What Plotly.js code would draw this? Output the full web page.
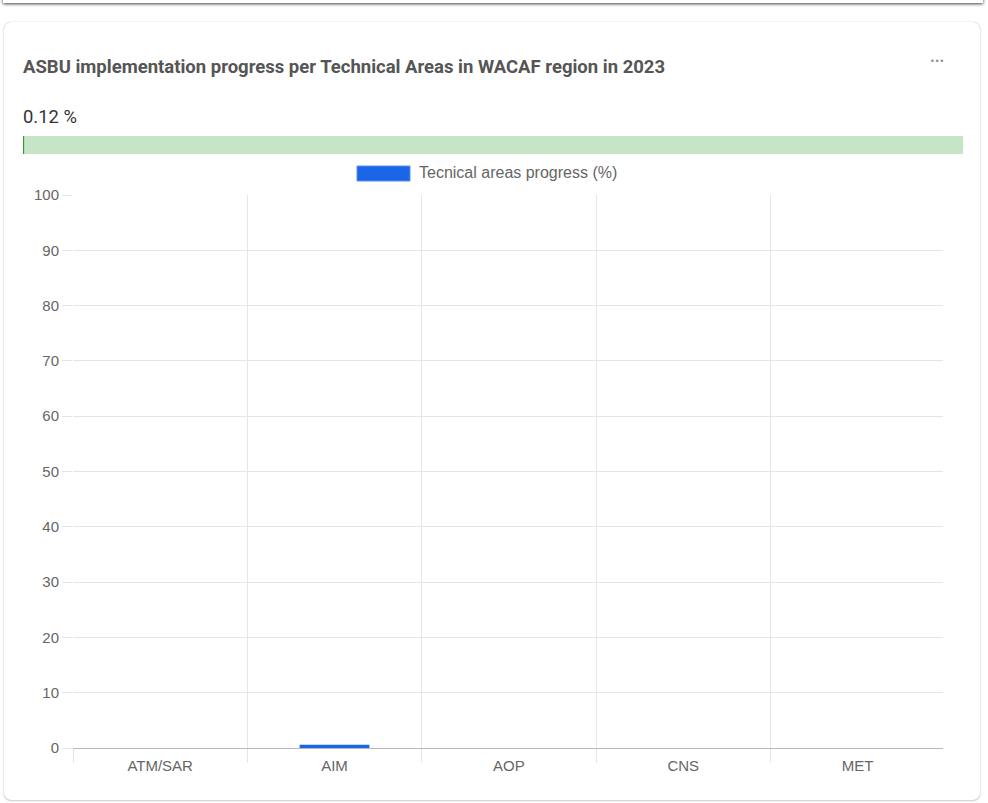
<!DOCTYPE html>
<html>
<head>
<meta charset="utf-8">
<script src="https://cdn.plot.ly/plotly-3.0.1.min.js"></script>
<style>
  html, body { margin: 0; padding: 0; background: #ffffff; width: 988px; height: 803px; overflow: hidden; }
  #topcard { position: absolute; left: 3px; top: -30px; width: 980px; height: 33px; background: #fff;
             box-shadow: 0 1px 3px rgba(0,0,0,0.75); }
  #card { position: absolute; left: 4px; top: 22px; width: 976px; height: 778px; background: #fff;
          border-radius: 7px; box-shadow: 0 0 1px rgba(0,0,0,0.35), 0 1px 2px rgba(0,0,0,0.18); }
  #chart { position: absolute; left: 0; top: 0; width: 988px; height: 803px; }
</style>
</head>
<body>
<div id="topcard"></div>
<div id="card"></div>
<div id="chart"></div>
<script>
// ---- data ----
const chartTitle = "ASBU implementation progress per Technical Areas in WACAF region in 2023";
const categories = ["ATM/SAR", "AIM", "AOP", "CNS", "MET"];
const progressValues = [0, 0.6, 0, 0, 0];
const seriesName = "Tecnical areas progress (%)";
const overallProgress = [0.12];
const overallMax = [100];
const yTickValues = [0, 10, 20, 30, 40, 50, 60, 70, 80, 90, 100];

// ---- helpers (pixel -> paper) ----
const W = 988, H = 803;
const px = x => x / W;
const py = y => 1 - y / H;

const blue = "#1a66e6";
const grid = "#e6e6e6";

const traces = [
  {
    type: "bar", x: categories, y: progressValues, name: seriesName,
    marker: { color: blue }, width: 0.4, xaxis: "x", yaxis: "y",
    showlegend: false, hoverinfo: "skip"
  },
  {
    type: "bar", orientation: "h", x: overallMax, y: ["overall"],
    marker: { color: "#c6e5c6" }, width: 1, xaxis: "x2", yaxis: "y2",
    showlegend: false, hoverinfo: "skip"
  },
  {
    type: "bar", orientation: "h", x: overallProgress, y: ["overall"],
    marker: { color: "#2f9a3a" }, width: 1, xaxis: "x2", yaxis: "y2",
    showlegend: false, hoverinfo: "skip"
  }
];

const layout = {
  width: W, height: H,
  margin: { l: 0, r: 0, t: 0, b: 0 },
  paper_bgcolor: "rgba(0,0,0,0)",
  plot_bgcolor: "rgba(0,0,0,0)",
  barmode: "overlay",
  showlegend: false,
  xaxis: {
    domain: [px(73), px(943)],
    type: "category",
    categoryorder: "array", categoryarray: categories,
    range: [-0.5, 4.49],
    tickson: "boundaries",
    showgrid: true, gridcolor: grid, gridwidth: 1,
    ticks: "outside", ticklen: 14, tickcolor: grid, tickwidth: 1,
    showline: true, linecolor: "#b8b8b8", linewidth: 1,
    zeroline: false,
    tickfont: { family: "Liberation Sans, Arial, sans-serif", size: 15, color: "#666" },
    ticklabelstandoff: 4,
    automargin: false, fixedrange: true
  },
  yaxis: {
    domain: [py(748), py(195)],
    range: [0, 100],
    tickvals: yTickValues,
    showgrid: true, gridcolor: grid, gridwidth: 1,
    ticks: "outside", ticklen: 10, tickcolor: grid, tickwidth: 1,
    showline: false, zeroline: false,
    tickfont: { family: "Liberation Sans, Arial, sans-serif", size: 15, color: "#666" },
    automargin: false, fixedrange: true
  },
  xaxis2: {
    domain: [px(23), px(963)], anchor: "y2", range: [0, 100],
    visible: false, showgrid: false, zeroline: false, fixedrange: true
  },
  yaxis2: {
    domain: [py(154), py(136)], anchor: "x2", range: [-0.5, 0.5],
    visible: false, showgrid: false, zeroline: false, fixedrange: true
  },
  shapes: [
    { type: "rect", xref: "paper", yref: "paper",
      x0: px(357), x1: px(410), y0: py(181), y1: py(166),
      fillcolor: blue, line: { color: "#5a8ff0", width: 1 } }
  ],
  annotations: [
    { text: "<b>" + chartTitle + "</b>", xref: "paper", yref: "paper",
      x: px(21), y: py(67), xanchor: "left", yanchor: "middle", showarrow: false,
      font: { family: "Roboto, sans-serif", size: 18.5, color: "#555" } },
    { text: "•••", xref: "paper", yref: "paper",
      x: px(937), y: py(62), xanchor: "center", yanchor: "middle", showarrow: false,
      font: { family: "DejaVu Sans, sans-serif", size: 8, color: "#888" } },
    { text: overallProgress[0] + " %", xref: "paper", yref: "paper",
      x: px(21), y: py(116), xanchor: "left", yanchor: "middle", showarrow: false,
      font: { family: "Roboto, sans-serif", size: 18.4, color: "#333" } },
    { text: seriesName, xref: "paper", yref: "paper",
      x: px(417), y: py(173), xanchor: "left", yanchor: "middle", showarrow: false,
      font: { family: "Liberation Sans, Arial, sans-serif", size: 16, color: "#666" } }
  ]
};

Plotly.newPlot("chart", traces, layout, { staticPlot: true, displayModeBar: false });
</script>
</body>
</html>
